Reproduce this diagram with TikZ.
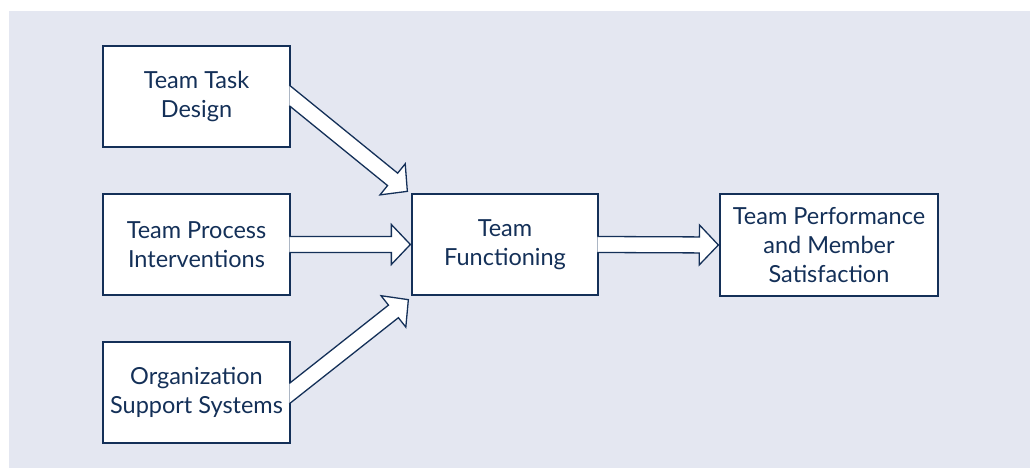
\documentclass[tikz,border=0pt]{standalone}
\usepackage{fontspec}
\setmainfont{Lato}
\usetikzlibrary{calc}
\definecolor{navy}{RGB}{20,48,88}
\definecolor{backdrop}{RGB}{228,231,241}
\tikzstyle{box}   = [draw=navy, line width=1.3pt, fill=white, text=navy, minimum width=187pt, minimum height=101pt, align=center, inner sep=0pt, font=\fontsize{23.5}{29}\selectfont]
\tikzstyle{block} = [draw=navy, line width=1.3pt, fill=white, line join=miter]

% hollow block arrow from the east side of node #1 to coordinate #2
\newcommand{\blockarrow}[2]{%
\coordinate (t)  at (#2);
\coordinate (s)  at (#1.east);
\coordinate (h)  at ($(t)!19pt!(s)$);
\coordinate (e1) at ($(#1.north east)+(-1.3,0)$);
\coordinate (e2) at ($(#1.south east)+(-1.3,0)$);
\coordinate (a1) at ($(s)!8pt!90:(t)$);
\coordinate (a2) at ($(h)!8pt!90:(t)$);
\coordinate (a3) at ($(h)!20pt!90:(t)$);
\coordinate (b1) at ($(s)!8pt!-90:(t)$);
\coordinate (b2) at ($(h)!8pt!-90:(t)$);
\coordinate (b3) at ($(h)!20pt!-90:(t)$);
\coordinate (a0) at (intersection of a1--a2 and e1--e2);
\coordinate (b0) at (intersection of b1--b2 and e1--e2);
\draw[block] (a0) -- (a2) -- (a3) -- (t) -- (b3) -- (b2) -- (b0);
}

\begin{document}
\begin{tikzpicture}[x=1pt, y=-1pt]

\useasboundingbox (0,0) rectangle (1030,468);
\fill[backdrop] (9,11) rectangle (1030,468);

\node[box] (task) at (196.5,96.5)  {Team Task\\Design};
\node[box] (proc) at (196.5,244.5) {Team Process\\Interventions};
\node[box] (org)  at (196.5,392.5) {Organization\\Support Systems};

\node[box, minimum width=186pt] (func) at (505,244.5) {Team\\Functioning};
\node[box, minimum width=218pt, minimum height=102pt] (perf) at (829,245) {Team Performance\\and Member\\Satisfaction};

\coordinate (tipA) at ($(func.north west)+(-4,-2)$);
\coordinate (tipB) at ($(func.west)+(-1,0)$);
\coordinate (tipC) at ($(func.south west)+(-3,4)$);
\coordinate (tipD) at ($(perf.west)+(-1,0)$);

\blockarrow{task}{tipA}
\blockarrow{proc}{tipB}
\blockarrow{org}{tipC}
\blockarrow{func}{tipD}

\end{tikzpicture}
\end{document}
